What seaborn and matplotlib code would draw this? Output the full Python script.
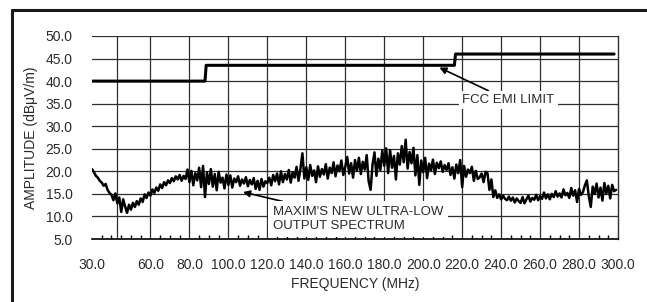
import numpy as np
import pandas as pd
import matplotlib
matplotlib.use("Agg")
import matplotlib.pyplot as plt
from matplotlib.lines import Line2D
import seaborn as sns

# ---- data ----
freq_start = 30  # MHz, one sample per MHz
spectrum_db = [
    20.5, 19.8, 19.0, 18.6, 17.9, 17.5, 16.8, 17.2, 15.9, 15.2,
    14.8, 13.6, 15.1, 12.9, 14.2, 11.0, 13.8, 12.2, 10.8, 12.6,
    11.5, 13.0, 12.1, 13.4, 12.6, 14.0, 13.2, 14.9, 14.1, 15.3,
    14.6, 16.0, 15.2, 16.4, 15.7, 17.1, 16.3, 17.6, 16.9, 18.0,
    17.4, 18.5, 17.8, 18.9, 18.2, 19.2, 17.9, 19.0, 18.3, 20.4,
    17.6, 20.1, 16.9, 19.6, 18.0, 20.8, 16.5, 21.2, 14.3, 19.8,
    17.2, 20.5, 16.6, 19.4, 15.8, 19.9, 17.5, 18.6, 16.2, 19.3,
    17.0, 19.1, 16.4, 18.4, 17.6, 18.9, 16.8, 18.2, 17.3, 18.7,
    16.7, 18.1, 17.1, 18.5, 16.1, 17.9, 15.9, 18.3, 16.6, 17.8,
    17.4, 18.6, 16.9, 19.2, 17.8, 19.5, 17.1, 20.0, 17.6, 19.4,
    18.2, 20.3, 17.5, 19.8, 18.6, 21.0, 17.9, 20.6, 24.0, 18.4,
    20.9, 18.1, 21.4, 19.0, 20.2, 17.6, 21.1, 18.8, 20.5, 19.3,
    21.6, 18.4, 20.8, 19.6, 22.0, 18.9, 21.3, 20.0, 22.4, 19.2,
    21.0, 23.2, 19.5, 21.8, 18.6, 22.5, 20.1, 23.0, 19.4, 22.1,
    20.4, 23.6, 17.8, 15.9, 21.5, 24.2, 19.0, 22.8, 20.3, 24.6,
    21.2, 25.1, 19.6, 24.7, 20.8, 23.4, 18.2, 24.0, 21.5, 25.6,
    22.0, 27.0, 20.6, 24.3, 21.8, 25.2, 19.1, 23.6, 17.0, 22.4,
    19.8, 23.0, 18.5, 21.7, 20.2, 22.6, 19.4, 21.9, 20.7, 22.2,
    19.9, 21.4, 20.3, 21.8, 19.2, 20.9, 18.4, 21.5, 19.6, 22.5,
    16.5, 21.2, 18.8, 20.4, 19.6, 21.0, 17.9, 20.1, 18.3, 18.7,
    19.5, 17.6, 19.9, 19.6, 15.9, 18.2, 14.3, 15.8, 14.1, 14.9,
    13.8, 14.6, 13.9, 13.6, 14.4, 13.5, 14.2, 13.1, 14.0, 13.4,
    13.0, 14.3, 12.9, 13.8, 14.6, 13.3, 14.1, 13.7, 14.8, 13.6,
    14.5, 13.9, 15.3, 14.0, 14.9, 13.8, 15.0, 14.3, 15.6, 14.4,
    15.1, 14.2, 16.0, 14.7, 15.2, 14.1, 16.3, 14.6, 15.8, 13.2,
    16.1, 14.8, 15.4, 16.9, 18.0, 14.5, 12.1, 16.6, 15.0, 17.3,
    14.2, 16.4, 13.5, 17.4, 15.1, 16.8, 14.0, 17.0, 15.6, 15.9,
]
spectrum_mhz = list(range(freq_start, freq_start + len(spectrum_db)))

limit_mhz = [30, 88, 88.6, 216, 216.6, 298]
limit_db = [40.0, 40.0, 43.5, 43.5, 46.0, 46.0]

xtick_vals = [30, 60, 80, 100, 120, 140, 160, 180, 200, 220, 240, 260, 280, 300]
xgrid_vals = [43, 60, 80, 100, 120, 140, 160, 180, 200, 220, 240, 260, 280]
ytick_vals = [5, 10, 15, 20, 25, 30, 35, 40, 45, 50]

df_spec = pd.DataFrame({"freq": spectrum_mhz, "amp": spectrum_db})
df_lim = pd.DataFrame({"freq": limit_mhz, "amp": limit_db})

# ---- figure ----
sns.set_style("white")
plt.rcParams["font.family"] = ["Liberation Sans", "DejaVu Sans"]
txt_col = "#2a2a2a"
grid_col = "#2e2e2e"
fs = 10
fs_note = 9.5

fig = plt.figure(figsize=(6.47, 3.02), dpi=100)
ax = fig.add_axes([0.1422, 0.2086, 0.8130, 0.6722])

# grid
for v in ytick_vals[1:]:
    ax.axhline(v, color=grid_col, lw=0.9, zorder=1)
for v in xgrid_vals:
    ax.axvline(v, color=grid_col, lw=0.9, zorder=1)

sns.lineplot(data=df_lim, x="freq", y="amp", ax=ax, color="black", lw=2.2,
             estimator=None, sort=False, zorder=3)
sns.lineplot(data=df_spec, x="freq", y="amp", ax=ax, color="black", lw=1.8,
             estimator=None, sort=False, zorder=3)

ax.set_xlim(30, 300)
ax.set_ylim(5, 50)
ax.set_xticks(xtick_vals)
ax.set_xticklabels([f"{v:.1f}" for v in xtick_vals])
ax.set_yticks(ytick_vals)
ax.set_yticklabels([f"{v:.1f}" for v in ytick_vals])
ax.set_xticks(np.arange(30, 301, 5), minor=True)
ax.tick_params(axis="both", which="major", length=0, labelsize=fs, colors=txt_col)
ax.tick_params(axis="x", which="major", pad=14)
ax.tick_params(axis="y", which="major", pad=14)
ax.tick_params(axis="x", which="minor", direction="in", length=3, width=1, color="black", bottom=True)

for side in ["left", "top"]:
    ax.spines[side].set_visible(False)
ax.spines["bottom"].set_color("black")
ax.spines["bottom"].set_linewidth(1.2)
ax.spines["right"].set_color(grid_col)
ax.spines["right"].set_linewidth(1.0)

ax.set_xlabel("FREQUENCY (MHz)", fontsize=fs, color=txt_col, labelpad=3)
ax.set_ylabel("AMPLITUDE (dBμV/m)", fontsize=fs, color=txt_col, labelpad=5)

# annotations
box = dict(boxstyle="square,pad=0.25", fc="white", ec="none")
ax.annotate("FCC EMI LIMIT", xy=(208.3, 43.0), xytext=(220, 35.8),
            fontsize=fs_note, color=txt_col, ha="left", va="center", bbox=box, zorder=4,
            arrowprops=dict(arrowstyle="-|>", color="black", lw=1.2, mutation_scale=10,
                            shrinkA=0, shrinkB=0))
ax.annotate("MAXIM'S NEW ULTRA-LOW\nOUTPUT SPECTRUM", xy=(107.5, 15.4), xytext=(122.9, 9.4),
            fontsize=fs_note, color=txt_col, ha="left", va="center", linespacing=1.25,
            bbox=dict(boxstyle="square,pad=0.35", fc="white", ec="none"), zorder=4,
            arrowprops=dict(arrowstyle="-|>", color="black", lw=1.2, mutation_scale=10,
                            shrinkA=0, shrinkB=0))

# outer frame (top and left edges visible)
fig.add_artist(Line2D([12 / 647, 1.0], [1 - 10 / 302, 1 - 10 / 302], transform=fig.transFigure,
                      color="#1a1a1a", lw=2.2))
fig.add_artist(Line2D([12 / 647, 12 / 647], [0.0, 1 - 10 / 302], transform=fig.transFigure,
                      color="#1a1a1a", lw=2.2))

fig.savefig("out.png", dpi=100)
